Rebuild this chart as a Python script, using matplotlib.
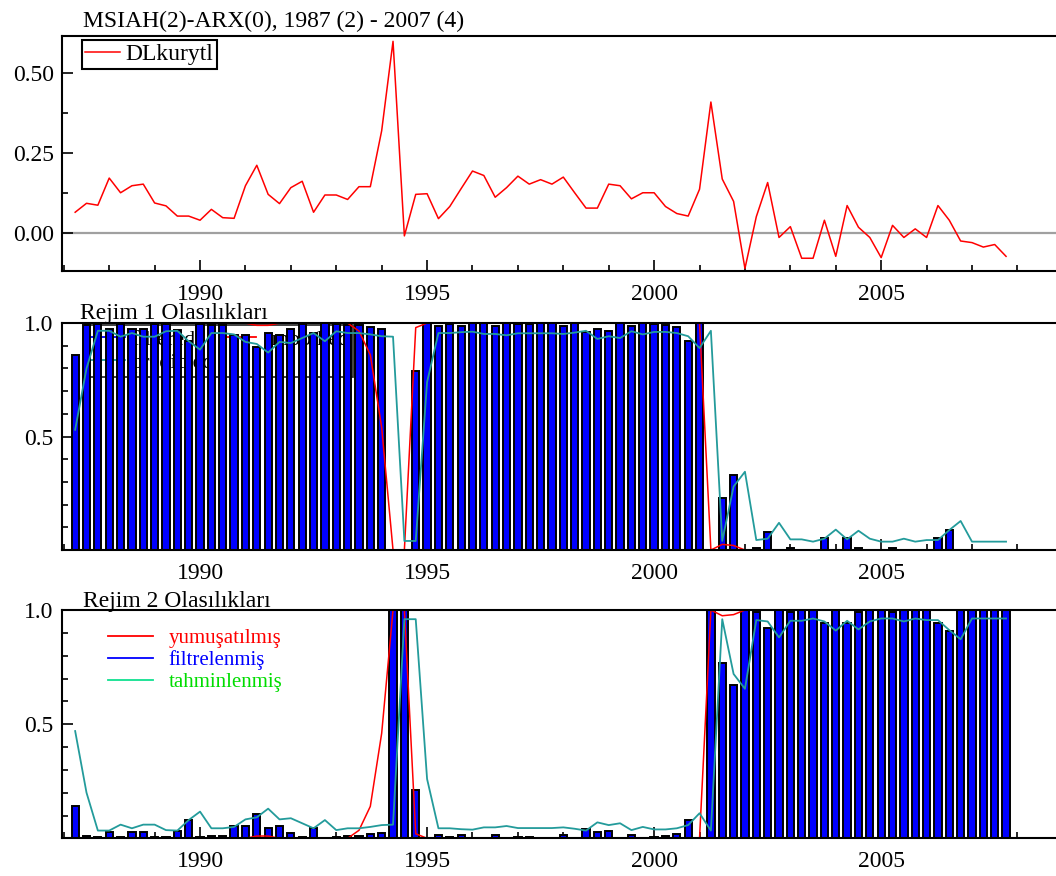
import matplotlib.pyplot as plt
import numpy as np
from matplotlib.lines import Line2D
from matplotlib.ticker import MultipleLocator

plt.rcParams['font.family'] = ['Liberation Serif', 'DejaVu Serif']

# quarterly sample 1987 (2) - 2007 (4)
quarters = 1987.25 + 0.25 * np.arange(83)
year_ticks = [1990, 1995, 2000, 2005]

dlkurytl = [0.065, 0.093, 0.087,
            0.172, 0.126, 0.148, 0.153,
            0.094, 0.085, 0.053, 0.053,
            0.040, 0.074, 0.048, 0.046,
            0.148, 0.212, 0.121, 0.092,
            0.142, 0.162, 0.065, 0.119,
            0.119, 0.105, 0.145, 0.145,
            0.320, 0.600, -0.009, 0.121,
            0.123, 0.045, 0.083, 0.139,
            0.194, 0.180, 0.112, 0.142,
            0.178, 0.153, 0.167, 0.153,
            0.175, 0.126, 0.078, 0.078,
            0.153, 0.148, 0.107, 0.126,
            0.126, 0.083, 0.061, 0.053,
            0.137, 0.410, 0.169, 0.099,
            -0.111, 0.051, 0.158, -0.014,
            0.020, -0.079, -0.079, 0.040,
            -0.073, 0.086, 0.018, -0.014,
            -0.077, 0.024, -0.014, 0.013,
            -0.014, 0.086, 0.040, -0.025,
            -0.030, -0.044, -0.036, -0.073]

# regime 1 probabilities
filtered1 = [0.86, 0.99, 0.995,
             0.974, 0.995, 0.974, 0.974,
             0.995, 0.995, 0.97, 0.92,
             0.995, 0.99, 0.99, 0.946,
             0.946, 0.895, 0.956, 0.946,
             0.975, 0.995, 0.956, 1.0,
             0.995, 0.99, 0.99, 0.982,
             0.975, 0.0, 0.0, 0.79,
             1.0, 0.985, 0.995, 0.985,
             1.0, 1.0, 0.985, 1.0,
             0.995, 0.995, 1.0, 1.0,
             0.985, 1.0, 0.96, 0.974,
             0.966, 1.0, 0.985, 1.0,
             0.995, 0.99, 0.982, 0.92,
             1.0, 0.0, 0.23, 0.33,
             0.0, 0.01, 0.08, 0.0,
             0.01, 0.0, 0.0, 0.055,
             0.0, 0.055, 0.01, 0.0,
             0.0, 0.01, 0.0, 0.0,
             0.0, 0.055, 0.09, 0.0,
             0.0, 0.0, 0.0, 0.0]

smoothed1 = [1.0, 1.0, 1.0,
             1.0, 1.0, 1.0, 1.0,
             1.0, 1.0, 1.0, 1.0,
             1.0, 1.0, 1.0, 1.0,
             1.0, 0.99, 0.99, 1.0,
             1.0, 1.0, 1.0, 1.0,
             1.0, 1.0, 0.965, 0.86,
             0.54, 0.0, 0.0, 0.98,
             1.0, 1.0, 1.0, 1.0,
             1.0, 1.0, 1.0, 1.0,
             1.0, 1.0, 1.0, 1.0,
             1.0, 1.0, 1.0, 1.0,
             1.0, 1.0, 1.0, 1.0,
             1.0, 1.0, 1.0, 1.0,
             1.0, 0.0, 0.025, 0.02,
             0.0, 0.0, 0.0, 0.0,
             0.0, 0.0, 0.0, 0.0,
             0.0, 0.0, 0.0, 0.0,
             0.0, 0.0, 0.0, 0.0,
             0.0, 0.0, 0.0, 0.0,
             0.0, 0.0, 0.0, 0.0]

predicted1 = [0.53, 0.80, 0.966,
              0.966, 0.94, 0.956, 0.94,
              0.94, 0.964, 0.966, 0.92,
              0.883, 0.956, 0.956, 0.95,
              0.917, 0.908, 0.87, 0.917,
              0.912, 0.934, 0.956, 0.92,
              0.964, 0.956, 0.956, 0.95,
              0.942, 0.94, 0.04, 0.04,
              0.74, 0.956, 0.956, 0.96,
              0.962, 0.952, 0.952, 0.946,
              0.955, 0.955, 0.955, 0.955,
              0.952, 0.958, 0.966, 0.93,
              0.942, 0.934, 0.964, 0.95,
              0.961, 0.961, 0.956, 0.942,
              0.89, 0.966, 0.04, 0.28,
              0.345, 0.044, 0.05, 0.12,
              0.047, 0.047, 0.037, 0.05,
              0.09, 0.047, 0.085, 0.05,
              0.037, 0.037, 0.05, 0.037,
              0.044, 0.044, 0.088, 0.128,
              0.037, 0.037, 0.037, 0.037]

# regime 2 is the complement
filtered2 = 1 - np.array(filtered1)
smoothed2 = 1 - np.array(smoothed1)
predicted2 = 1 - np.array(predicted1)

BLUE = '#0000ff'
TEAL = '#239b9b'
RED = '#ff0000'


def style_axis(ax):
    ax.set_xlim(1986.96, 2008.85)
    ax.spines['right'].set_visible(False)
    for s in ['left', 'top', 'bottom']:
        ax.spines[s].set_linewidth(1.5)
        ax.spines[s].set_zorder(4)
    ax.set_xticks(year_ticks, [str(y) for y in year_ticks])
    ax.xaxis.set_minor_locator(MultipleLocator(1))
    ax.tick_params(which='both', direction='in', top=False, right=False,
                   labelsize=17, width=1.2)
    ax.tick_params(which='major', length=8)
    ax.tick_params(which='minor', length=4)
    ax.tick_params(axis='x', pad=9)
    ax.tick_params(axis='y', pad=6)


fig = plt.figure(figsize=(10.56, 8.76), dpi=100)
ax1 = fig.add_axes([0.0587, 0.6906, 0.9413, 0.2688])
ax2 = fig.add_axes([0.0587, 0.3721, 0.9413, 0.2591])
ax3 = fig.add_axes([0.0587, 0.0430, 0.9413, 0.2606])

# top: the series
style_axis(ax1)
ax1.axhline(0, color='#a0a0a0', lw=1.6, zorder=1)
ax1.plot(quarters, dlkurytl, color=RED, lw=1.1, label='DLkurytl', zorder=3)
ax1.set_ylim(-0.119, 0.618)
ax1.set_yticks([0, 0.25, 0.5], ['0.00', '0.25', '0.50'])
ax1.yaxis.set_minor_locator(MultipleLocator(0.125))
leg1 = ax1.legend(loc='upper left', bbox_to_anchor=(0.020, 0.981), borderaxespad=0,
                  fontsize=17, handlelength=1.45, handletextpad=0.25, borderpad=0.15,
                  fancybox=False, edgecolor='black', framealpha=1)
leg1.get_frame().set_linewidth(1.5)
fig.text(0.0786, 0.969, 'MSIAH(2)-ARX(0), 1987 (2) - 2007 (4)', fontsize=17, va='baseline')

# middle: regime 1
style_axis(ax2)
ax2.bar(quarters, filtered1, width=0.16, color=BLUE, edgecolor='black', linewidth=1.4, zorder=2)
ax2.plot(quarters, smoothed1, color=RED, lw=1.1, zorder=3)
ax2.plot(quarters, predicted1, color=TEAL, lw=1.3, zorder=3)
ax2.set_ylim(0, 1)
ax2.set_yticks([0.5, 1.0], ['0.5', '1.0'])
ax2.yaxis.set_minor_locator(MultipleLocator(0.1))
h_mid = [Line2D([], [], color=BLUE, lw=1.3),
         Line2D([], [], color=TEAL, lw=1.3),
         Line2D([], [], color=RED, lw=1.3)]
leg2 = ax2.legend(h_mid, ['filtered', 'predicted', 'smoothed'], ncol=2,
                  loc='upper left', bbox_to_anchor=(0.023, 0.991), borderaxespad=0,
                  fontsize=16, handlelength=1.6, handletextpad=0.3, columnspacing=0.3,
                  borderpad=0.2, labelspacing=0.1, fancybox=False,
                  edgecolor='black', facecolor='none')
leg2.get_frame().set_linewidth(1.3)
leg2.set_zorder(1)
fig.text(0.0758, 0.6358, 'Rejim 1 Olasılıkları', fontsize=17, va='baseline')

# bottom: regime 2
style_axis(ax3)
ax3.bar(quarters, filtered2, width=0.16, color=BLUE, edgecolor='black', linewidth=1.4, zorder=2)
ax3.plot(quarters, smoothed2, color=RED, lw=1.1, zorder=3)
ax3.plot(quarters, predicted2, color=TEAL, lw=1.3, zorder=3)
ax3.set_ylim(0, 1)
ax3.set_yticks([0.5, 1.0], ['0.5', '1.0'])
ax3.yaxis.set_minor_locator(MultipleLocator(0.1))
h_bot = [Line2D([], [], color=RED, lw=1.3),
         Line2D([], [], color=BLUE, lw=1.3),
         Line2D([], [], color='#10e090', lw=1.3)]
leg3 = ax3.legend(h_bot, ['yumuşatılmış', 'filtrelenmiş', 'tahminlenmiş'],
                  loc='upper left', bbox_to_anchor=(0.038, 0.956), borderaxespad=0,
                  fontsize=15, handlelength=2.15, handletextpad=0.75,
                  labelspacing=0.12, frameon=False)
for txt, c in zip(leg3.get_texts(), [RED, BLUE, '#00dd00']):
    txt.set_color(c)
fig.text(0.0786, 0.3071, 'Rejim 2 Olasılıkları', fontsize=17, va='baseline')

fig.savefig('out.png', dpi=100)
